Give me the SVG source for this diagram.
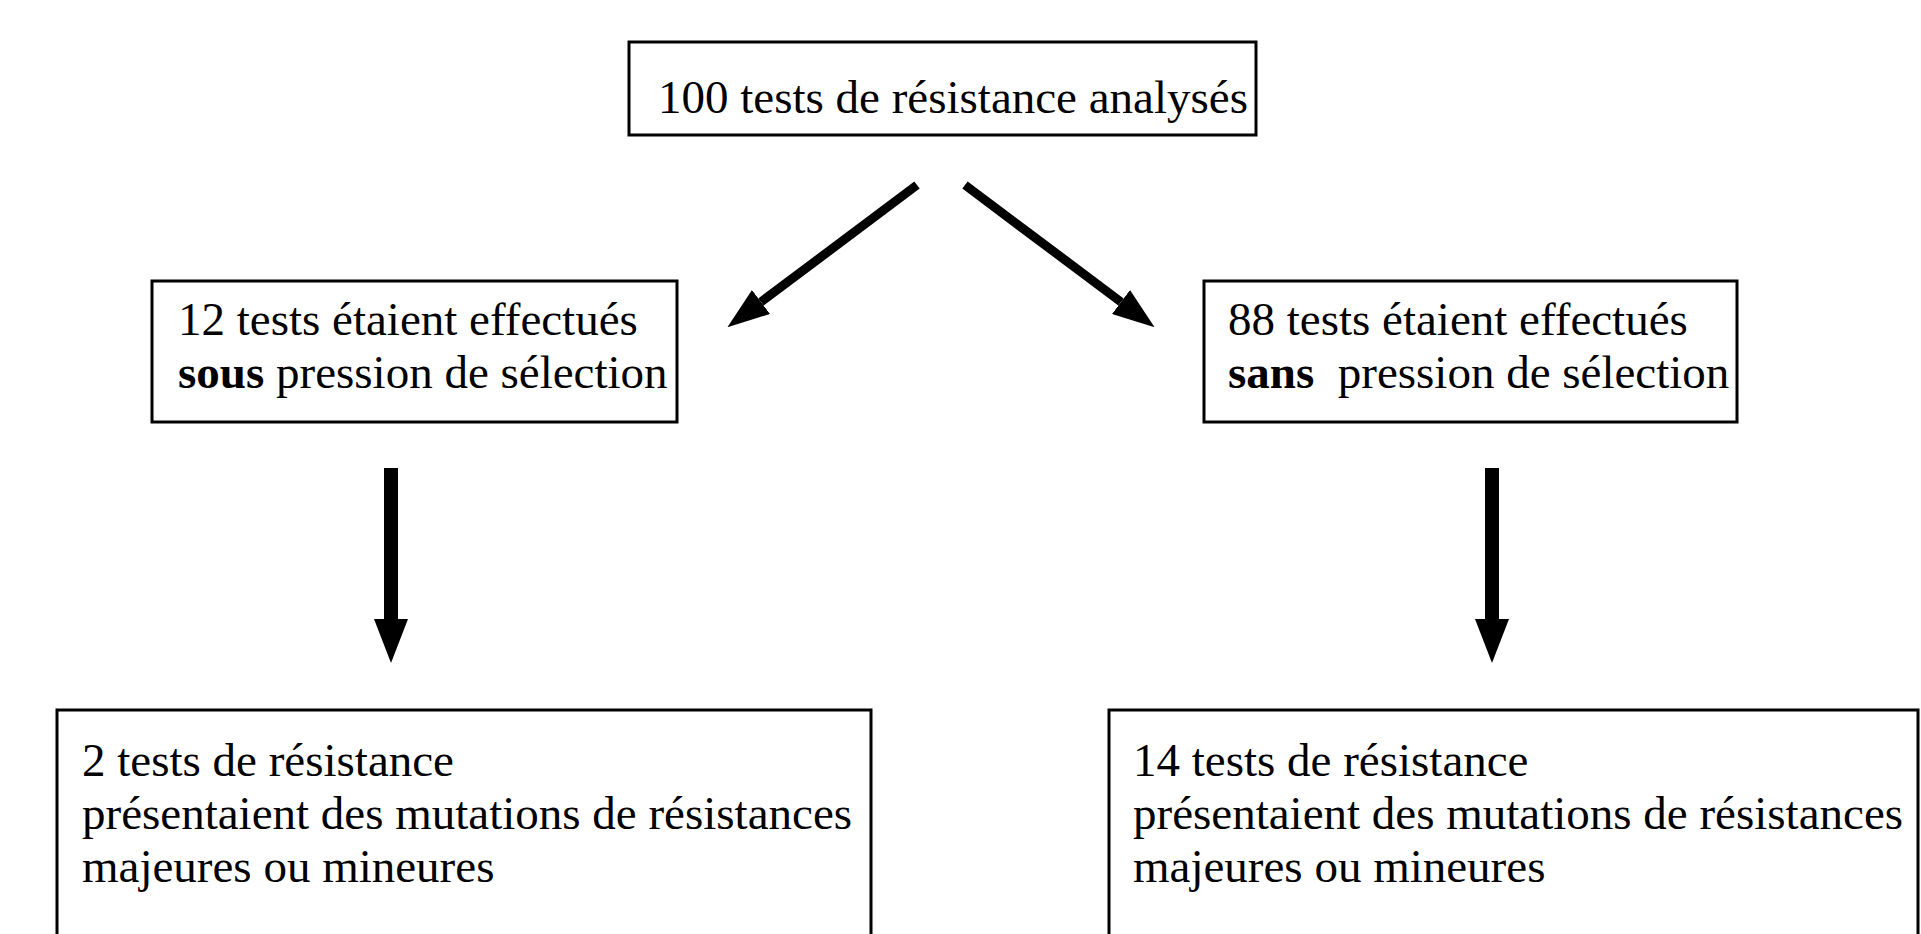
<svg xmlns="http://www.w3.org/2000/svg" width="1921" height="934" viewBox="0 0 1921 934">
<style>
.box{fill:#fff;stroke:#000;stroke-width:3}
.t{font-family:"Liberation Serif","Times New Roman",serif;font-size:47px;fill:#000}
.b{font-weight:bold}
.diag{stroke:#000;stroke-width:9;fill:none}
.vert{stroke:#000;stroke-width:14;fill:none}
</style>
<defs>
<marker id="headS" markerUnits="userSpaceOnUse" markerWidth="42" markerHeight="30" refX="0" refY="15" orient="auto">
<path d="M0,0 L42,15 L0,30 z" fill="#000"/>
</marker>
<marker id="headL" markerUnits="userSpaceOnUse" markerWidth="44" markerHeight="34" refX="0" refY="17" orient="auto">
<path d="M0,0 L44,17 L0,34 z" fill="#000"/>
</marker>
</defs>
<rect width="1921" height="934" fill="#fff"/>
<g id="n-top">
<rect class="box" x="629" y="42" width="627" height="93"/>
<text class="t" x="658" y="113">100 tests de résistance analysés</text>
</g>
<g id="n-sous">
<rect class="box" x="152" y="281" width="525" height="141"/>
<text class="t" x="178" y="335">12 tests étaient effectués</text>
<text class="t" x="178" y="388" xml:space="preserve"><tspan class="b">sous</tspan> pression de sélection</text>
</g>
<g id="n-sans">
<rect class="box" x="1204" y="281" width="533" height="141"/>
<text class="t" x="1228" y="335">88 tests étaient effectués</text>
<text class="t" x="1228" y="388" xml:space="preserve"><tspan class="b">sans</tspan>  pression de sélection</text>
</g>
<g id="n-res2">
<rect class="box" x="57" y="710" width="814" height="240"/>
<text class="t" x="82" y="776">2 tests de résistance</text>
<text class="t" x="82" y="829">présentaient des mutations de résistances</text>
<text class="t" x="82" y="882">majeures ou mineures</text>
</g>
<g id="n-res14">
<rect class="box" x="1109" y="710" width="809" height="240"/>
<text class="t" x="1133" y="776">14 tests de résistance</text>
<text class="t" x="1133" y="829">présentaient des mutations de résistances</text>
<text class="t" x="1133" y="882">majeures ou mineures</text>
</g>
<g id="connectors">
<line class="diag" x1="917" y1="185" x2="761" y2="302" marker-end="url(#headS)"/>
<line class="diag" x1="965" y1="185" x2="1121" y2="302" marker-end="url(#headS)"/>
<line class="vert" x1="391" y1="468" x2="391" y2="619" marker-end="url(#headL)"/>
<line class="vert" x1="1492" y1="468" x2="1492" y2="619" marker-end="url(#headL)"/>
</g>
</svg>
